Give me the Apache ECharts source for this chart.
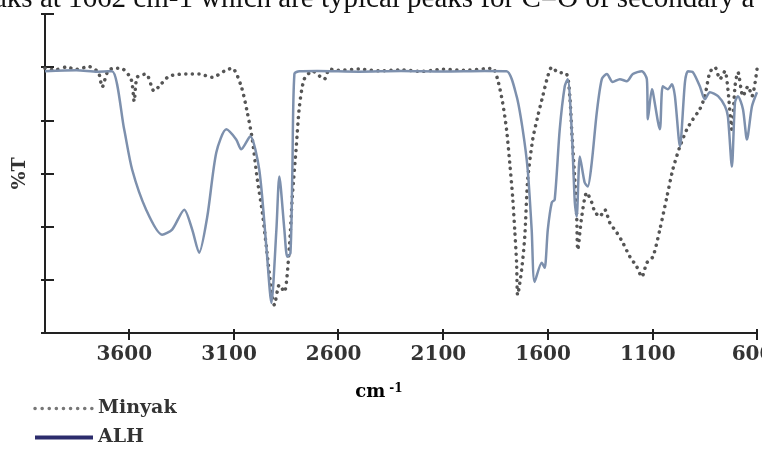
<!DOCTYPE html>
<html>
<head>
<meta charset="utf-8">
<script src="https://cdn.jsdelivr.net/npm/echarts@6/dist/echarts.min.js"></script>
<style>
  html, body { margin: 0; padding: 0; background: #fff; }
  #chart { width: 762px; height: 449px; }
</style>
</head>
<body>
<div id="chart"></div>
<script>
// FTIR spectra, wavenumber (cm-1) vs %T
const xTicks = [600, 1100, 1600, 2100, 2600, 3100, 3600];
const yTicks = [0, 20, 40, 60, 80, 100, 120];

// ALH (solid)
const alhPoints = [
  [4000, 98.5], [3850, 98.8], [3750, 98.3], [3680, 98.5], [3622, 76.6], [3584, 61.5],
  [3517, 46.4], [3441, 37.0], [3393, 38.9], [3335, 46.4], [3297, 38.9], [3264, 30.2],
  [3225, 43.8], [3182, 67.9], [3134, 76.6], [3087, 72.8], [3063, 69.1], [3020, 74.0],
  [2977, 61.5], [2943, 32.5], [2919, 11.3], [2895, 38.9], [2881, 58.9], [2857, 38.9],
  [2843, 28.7], [2828, 30.0], [2819, 60.0], [2809, 97.5], [2785, 98.5], [2700, 98.6],
  [2500, 98.3], [2300, 98.6], [2100, 98.4], [1900, 98.6], [1796, 98.5], [1748, 89.1],
  [1719, 76.6], [1695, 61.5], [1676, 38.9], [1662, 19.2], [1628, 26.4], [1614, 24.5],
  [1599, 38.9], [1580, 49.1], [1566, 50.2], [1542, 76.6], [1518, 92.8], [1504, 95.5],
  [1485, 76.6], [1470, 49.1], [1461, 43.8], [1446, 66.4], [1423, 56.6], [1408, 55.1],
  [1389, 64.2], [1365, 83.0], [1341, 95.5], [1317, 97.4], [1289, 94.4], [1255, 95.5],
  [1222, 94.7], [1193, 97.4], [1150, 98.5], [1126, 95.5], [1121, 80.4], [1102, 91.7],
  [1097, 90.6], [1064, 76.6], [1050, 92.8], [1026, 91.7], [1006, 93.6], [992, 89.1],
  [968, 70.2], [944, 94.4], [930, 98.5], [906, 98.1], [873, 92.8], [849, 87.9],
  [825, 90.6], [786, 89.1], [753, 85.3], [739, 81.5], [720, 62.6], [705, 86.8],
  [691, 89.1], [667, 84.2], [648, 72.8], [624, 85.3], [600, 90.6]
];

// Minyak (dotted)
const minyakPoints = [
  [4000, 99.6], [3950, 99.0], [3900, 100.0], [3850, 99.2], [3790, 100.2], [3745, 98.0],
  [3727, 92.5], [3700, 98.5], [3670, 99.6], [3637, 99.6], [3589, 95.5], [3574, 87.2],
  [3560, 96.2], [3517, 97.4], [3479, 91.0], [3455, 92.8], [3407, 96.6], [3326, 97.4],
  [3264, 97.4], [3201, 96.2], [3144, 98.5], [3106, 99.6], [3063, 92.8], [3034, 83.0],
  [3010, 72.8], [2986, 57.7], [2962, 45.3], [2943, 32.5], [2929, 22.6], [2915, 13.6],
  [2905, 10.6], [2881, 18.1], [2857, 15.5], [2833, 32.5], [2819, 51.3], [2800, 70.2],
  [2785, 85.3], [2762, 95.5], [2723, 98.5], [2666, 95.5], [2642, 99.3], [2600, 98.8],
  [2500, 99.3], [2400, 98.6], [2300, 99.0], [2200, 98.4], [2100, 99.2], [2000, 98.8],
  [1900, 99.4], [1862, 99.6], [1839, 95.5], [1815, 86.8], [1796, 76.6], [1781, 64.2],
  [1767, 51.3], [1757, 38.9], [1748, 26.4], [1743, 14.3], [1724, 23.8], [1709, 36.2],
  [1695, 57.7], [1671, 72.8], [1647, 81.5], [1623, 89.1], [1599, 96.6], [1580, 100.0],
  [1552, 98.1], [1509, 97.4], [1494, 89.1], [1485, 76.6], [1470, 57.7], [1461, 43.8],
  [1456, 31.3], [1437, 43.8], [1413, 52.8], [1389, 49.1], [1375, 45.7], [1351, 43.8],
  [1327, 46.4], [1303, 41.5], [1269, 37.7], [1241, 34.0], [1207, 28.7], [1174, 24.9],
  [1150, 21.1], [1126, 26.4], [1097, 28.7], [1064, 38.9], [1030, 51.3], [1002, 61.5],
  [968, 70.2], [935, 76.6], [906, 80.4], [873, 84.2], [849, 89.1], [825, 98.1],
  [801, 100.0], [777, 95.5], [753, 98.5], [739, 91.7], [720, 76.6], [705, 92.8],
  [691, 98.1], [667, 89.1], [643, 92.8], [624, 89.1], [600, 99.3]
];

const serif = 'DejaVu Serif';
const axisColor = '#222';

const chart = echarts.init(document.getElementById('chart'));

const xBase = {
  type: 'value', inverse: true, min: 600, max: 4000,
  position: 'bottom',
  splitLine: { show: false },
  axisLine: { show: true, lineStyle: { color: axisColor, width: 2 } }
};
const yBase = {
  type: 'value', min: 0, max: 120, interval: 20,
  position: 'left',
  splitLine: { show: false },
  axisLine: { show: true, lineStyle: { color: axisColor, width: 2 } }
};

chart.setOption({
  animation: false,
  grid: { left: 45, right: 5, top: 14, bottom: 116, containLabel: false, outerBoundsMode: 'none' },
  xAxis: [
    Object.assign({}, xBase, {
      axisTick: { show: true, length: 7, customValues: xTicks, lineStyle: { color: axisColor, width: 2 } },
      axisLabel: {
        customValues: xTicks, margin: 12, color: '#333', padding: [0, 9, 0, 0],
        fontFamily: serif, fontWeight: 'bold', fontSize: 20,
        formatter: (v) => String(v)
      }
    }),
    Object.assign({}, xBase, {
      axisTick: { show: true, inside: true, length: 4, customValues: xTicks, lineStyle: { color: axisColor, width: 2 } },
      axisLabel: { show: false }
    })
  ],
  yAxis: [
    Object.assign({}, yBase, {
      name: '%T', nameLocation: 'middle', nameGap: 15,
      nameTextStyle: { fontFamily: serif, fontWeight: 'bold', fontSize: 19, color: '#333' },
      axisTick: { show: true, length: 4, lineStyle: { color: axisColor, width: 2 } },
      axisLabel: { show: false }
    }),
    Object.assign({}, yBase, {
      axisTick: { show: true, inside: true, length: 9, lineStyle: { color: axisColor, width: 2 } },
      axisLabel: { show: false }
    })
  ],
  legend: {
    orient: 'vertical', left: 33, top: 399, itemGap: 10, padding: 0,
    itemWidth: 58, itemHeight: 14,
    itemStyle: { opacity: 0 },
    textStyle: { fontFamily: serif, fontWeight: 'bold', fontSize: 19, color: '#333' },
    data: [
      { name: 'Minyak', lineStyle: { color: '#777', width: 3.5, type: [0.1, 7], cap: 'round' } },
      { name: 'ALH', lineStyle: { color: '#2c2c6c', width: 4, type: 'solid' } }
    ]
  },
  graphic: [
    {
      type: 'text', left: -6, top: -15,
      style: {
        text: 'aks at 1662 cm-1 which are typical peaks for C=O of secondary a',
        font: '29px "Liberation Serif"', fill: '#111'
      }
    },
    {
      type: 'text', x: 379, y: 392,
      style: {
        text: '{b|cm}{s|-1}', align: 'center', verticalAlign: 'middle',
        rich: {
          b: { fontFamily: serif, fontWeight: 'bold', fontSize: 18, color: '#333' },
          s: { fontFamily: serif, fontWeight: 'bold', fontSize: 12, color: '#333', verticalAlign: 'top', padding: [0, 0, 6, 4] }
        }
      }
    }
  ],
  series: [
    {
      name: 'Minyak', type: 'line', data: minyakPoints, showSymbol: false, symbol: 'none',
      smooth: 0.25, z: 2,
      lineStyle: { color: '#555', width: 3.5, type: [0.1, 6.5], cap: 'round' }
    },
    {
      name: 'ALH', type: 'line', data: alhPoints, showSymbol: false, symbol: 'none',
      smooth: 0.25, z: 3,
      lineStyle: { color: '#7d90ad', width: 2.5 }
    }
  ]
});
</script>
</body>
</html>
